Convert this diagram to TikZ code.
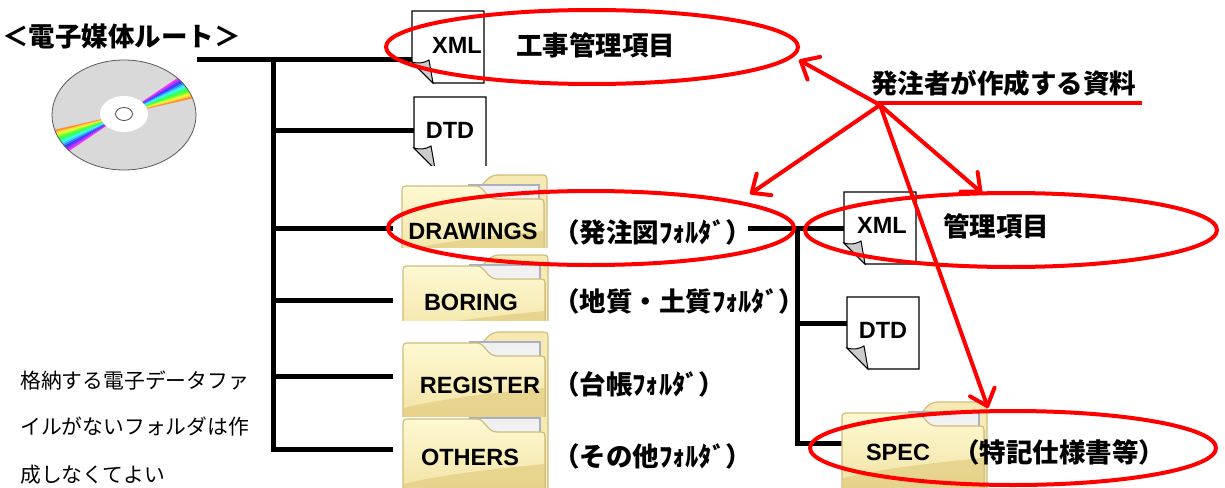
\documentclass[tikz,border=0pt]{standalone}
\usepackage{fontspec}
\setmainfont{Liberation Sans}
\newfontfamily\jp{Noto Sans CJK JP}
\usetikzlibrary{arrows.meta,shapes.geometric}

\definecolor{folderline}{RGB}{208,188,125}
\definecolor{foldertop}{RGB}{254,249,210}
\definecolor{folderbot}{RGB}{238,220,150}
\definecolor{foldershade}{RGB}{226,204,128}
\definecolor{tabfill}{RGB}{246,234,178}
\definecolor{paperedge}{RGB}{170,176,192}
\definecolor{discgray}{RGB}{217,217,217}
\definecolor{annot}{RGB}{255,0,0}

\tikzset{
  branch/.style={line width=5pt, black, line join=miter},
  redline/.style={annot, line width=4pt},
  redring/.style={draw=annot, line width=4pt, ellipse, inner sep=0pt},
  redarrow/.style={annot, line width=4pt, line cap=round,
    -{Straight Barb[length=15pt,width=26pt,round]}},
  doclabel/.style={font=\bfseries\fontsize{23.5}{23.5}\selectfont, inner sep=0pt},
  jplabel/.style={font=\jp\bfseries\fontsize{26.5}{26.5}\selectfont, inner sep=0pt, anchor=west},
  notetext/.style={font=\jp\fontsize{20.8}{20.8}\selectfont, inner sep=0pt, anchor=west},
  pageline/.style={draw=black, line width=1.2pt},
}

% a sheet of paper with a curled lower-left corner; #1 = left, #2 = top
\newcommand\docpage[2]{%
  \begin{scope}[shift={(#1,#2)}]
    \filldraw[pageline, fill=white] (0,0) -- (72,0) -- (72,72) -- (21,72) -- (0,51) -- cycle;
    \filldraw[draw=black, line width=1pt, fill=gray!40]
      (0,51) .. controls (6,53) and (12,52) .. (17,49) -- (21,72) -- cycle;
  \end{scope}}

% a manila folder; #1 = left, #2 = top of tab, #3/#4 = visible band (y)
\newcommand\folder[4]{%
  \begin{scope}
    \clip (#1-4,#3) rectangle (#1+152,#4);
    \begin{scope}[shift={(#1,#2)}]
      \filldraw[draw=folderline, line width=1.2pt, fill=tabfill]
        (74,14) .. controls (82,12) and (84,0) .. (96,0) -- (140,0)
        .. controls (144,0) and (145,1) .. (145,5) -- (145,110) -- (74,110) -- cycle;
      \filldraw[draw=paperedge, line width=1.5pt, top color=gray!12, bottom color=white]
        (67,110) -- (67,10) -- (137,10) -- (137,110);
      \filldraw[draw=folderline, line width=1.2pt, top color=foldertop, bottom color=folderbot]
        (0,110) -- (0,16) .. controls (0,12) and (1,11) .. (5,11) -- (74,11)
        .. controls (82,11) and (84,24) .. (94,24) -- (138,24)
        .. controls (141,24) and (142,25) .. (142,28) -- (142,110) -- cycle;
      \fill[foldershade, opacity=0.7]
        (0.8,110) -- (0.8,76) .. controls (40,66) and (100,60) .. (141.2,56) -- (141.2,110) -- cycle;
    \end{scope}
  \end{scope}}

\begin{document}
\begin{tikzpicture}[x=1pt,y=-1pt]
\useasboundingbox (0,0) rectangle (1225,487);

% ---------- disc ----------
\begin{scope}
  \clip (124,115) ellipse [x radius=72pt, y radius=55pt];
  \fill[discgray] (124,115) ellipse [x radius=72pt, y radius=55pt];
  \begin{scope}[shift={(124,114)}]
    \foreach \i in {0,...,13} {
      \pgfmathsetmacro\aa{-34+\i*1.5}
      \pgfmathsetmacro\bb{\aa+1.7}
      \pgfmathsetmacro\hh{300-\i*21}
      \definecolor{rb}{Hsb}{\hh,0.8,1}
      \fill[rb] (0,0) -- (\aa:110) -- (\bb:110) -- cycle;
      \fill[rb] (0,0) -- (\aa+180:110) -- (\bb+180:110) -- cycle;
    }
  \end{scope}
\end{scope}
\draw[black!65, line width=0.8pt] (124,115) ellipse [x radius=72pt, y radius=55pt];
\fill[white] (124,114) ellipse [x radius=24pt, y radius=18pt];
\draw[black!70, line width=0.8pt, fill=white] (124,114) ellipse [x radius=8.5pt, y radius=6.5pt];

% ---------- tree joints ----------
\coordinate (root)   at (197,60);
\coordinate (trunk)  at (273,60);
\coordinate (jDtd)   at (273,130);
\coordinate (jDraw)  at (273,228);
\coordinate (jBor)   at (273,300);
\coordinate (jReg)   at (273,376);
\coordinate (jOth)   at (273,449);
\coordinate (inXml)  at (414,60);
\coordinate (inDtd)  at (416,130);
\coordinate (inDraw) at (393,228);
\coordinate (inBor)  at (393,300);
\coordinate (inReg)  at (393,376);
\coordinate (inOth)  at (393,449);
\coordinate (subOut) at (748,228);
\coordinate (subTop) at (797,228);
\coordinate (subDtd) at (797,323);
\coordinate (subBot) at (797,443);
\coordinate (inXml2) at (846,228);
\coordinate (inDtd2) at (849,323);
\coordinate (inSpec) at (844,443);

\draw[branch] (root) -- (inXml);
\draw[branch] (trunk) -- (jOth) -- (inOth);
\draw[branch] (jDtd) -- (inDtd);
\draw[branch] (jDraw) -- (inDraw);
\draw[branch] (jBor) -- (inBor);
\draw[branch] (jReg) -- (inReg);
\draw[branch] (subOut) -- (inXml2);
\draw[branch] (subTop) -- (subBot) -- (inSpec);
\draw[branch] (subDtd) -- (inDtd2);

% ---------- files ----------
\docpage{412}{11}
\begin{scope}
  \clip (400,90) rectangle (500,165);
  \docpage{414}{97}
\end{scope}
\docpage{844}{192}
\docpage{847}{297}

% ---------- folders ----------
\folder{402}{175}{170}{247}
\folder{403}{255}{250}{320}
\folder{403}{332}{328}{416}
\folder{403}{408}{417}{487}
\folder{842}{402}{398}{487}

% ---------- labels ----------
\node[jplabel] (title) at (2,36) {＜電子媒体ルート＞};
\node[doclabel] (xmlA) at (457,45) {XML};
\node[jplabel] (kojiA) at (516,45) {工事管理項目};
\node[doclabel] (dtdA) at (450,130) {DTD};
\node[doclabel] (drw) at (473,231) {DRAWINGS};
\node[doclabel] (bor) at (471,302) {BORING};
\node[doclabel] (reg) at (480,385) {REGISTER};
\node[doclabel] (oth) at (470,457) {OTHERS};
\node[jplabel] (drwJ) at (553,232) {（発注図ﾌｫﾙﾀﾞ）};
\node[jplabel] (borJ) at (553,301) {（地質・土質ﾌｫﾙﾀﾞ）};
\node[jplabel] (regJ) at (553,384) {（台帳ﾌｫﾙﾀﾞ）};
\node[jplabel] (othJ) at (553,456) {（その他ﾌｫﾙﾀﾞ）};
\node[doclabel] (xmlB) at (882,225) {XML};
\node[jplabel] (kanri) at (943,226) {管理項目};
\node[doclabel] (dtdB) at (883,330) {DTD};
\node[doclabel] (spec) at (898,452) {SPEC};
\node[jplabel] (specJ) at (953,452) {（特記仕様書等）};
\node[notetext] (note1) at (20,380) {格納する電子データファ};
\node[notetext] (note2) at (20,427) {イルがないフォルダは作};
\node[notetext] (note3) at (20,475) {成しなくてよい};

% ---------- annotation ----------
\node[jplabel] (owner) at (871,83) {発注者が作成する資料};
\coordinate (ulA) at (878,103);
\coordinate (ulB) at (1142,103);
\draw[redline] (ulA) -- (ulB);

\node[redring, minimum width=412pt, minimum height=74pt] (ringA) at (592,47) {};
\node[redring, minimum width=406pt, minimum height=74pt] (ringB) at (591,228) {};
\node[redring, minimum width=412pt, minimum height=74pt] (ringC) at (1011,230) {};
\node[redring, minimum width=406pt, minimum height=74pt] (ringD) at (1013,448) {};

\coordinate (hub)  at (880,105);
\coordinate (tipA) at (799,60);
\coordinate (tipB) at (750,194);
\coordinate (tipC) at (982,193);
\coordinate (tipD) at (988,408);
\draw[redarrow] (hub) -- (tipA);
\draw[redarrow] (hub) -- (tipB);
\draw[redarrow] (hub) -- (tipC);
\draw[redarrow] (hub) -- (tipD);
\end{tikzpicture}
\end{document}
